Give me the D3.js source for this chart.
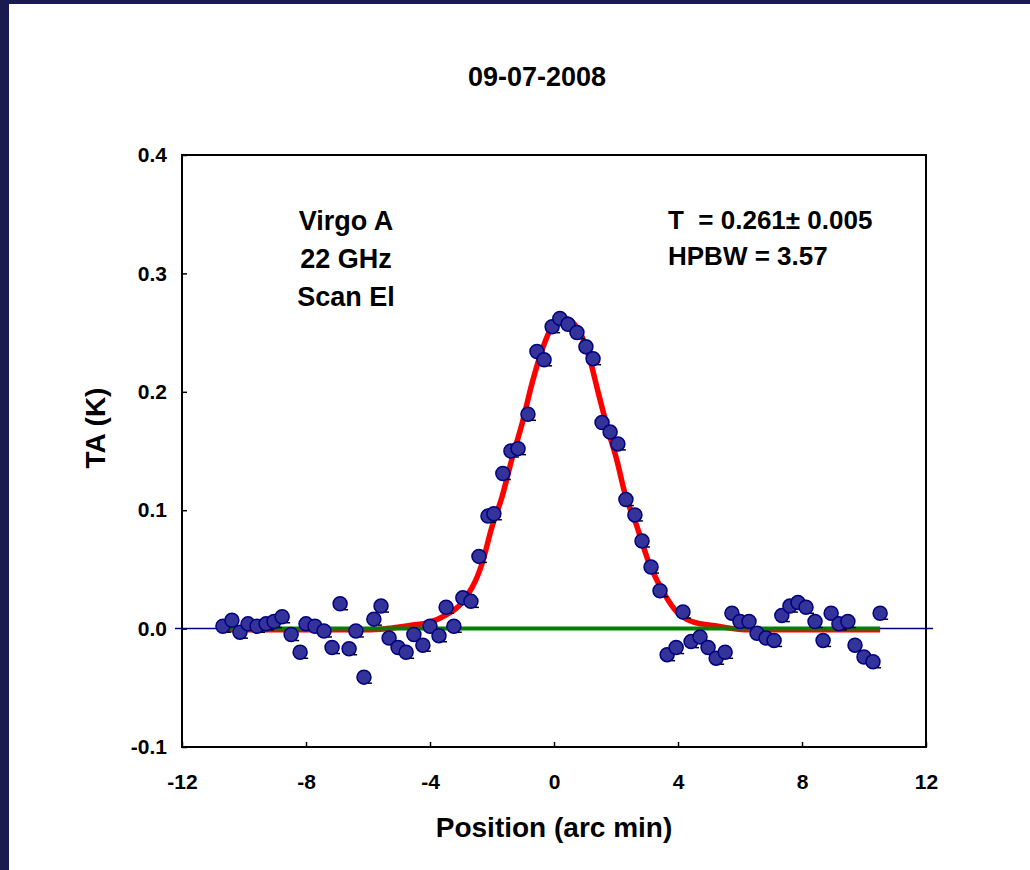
<!DOCTYPE html>
<html>
<head>
<meta charset="utf-8">
<script src="https://cdn.jsdelivr.net/npm/d3@7"></script>
<style>
  body { margin: 0; background: #fff; }
  text { font-family: "Liberation Sans", Arial, sans-serif; font-weight: bold; fill: #000; }
</style>
</head>
<body>
<script>
// Define constants
const width = 1030
const height = 870
const margin = {top: 155, right: 104, bottom: 123, left: 182}
const innerwidth = width - margin.left - margin.right
const innerheight = height - margin.top - margin.bottom

// scan data (position in arc min, TA in K)
const posX = [-10.68, -10.39, -10.13, -9.87, -9.58, -9.29, -9.03, -8.77, -8.48, -8.19,
  -8.00, -7.71, -7.42, -7.16, -6.90, -6.61, -6.39, -6.13, -5.81, -5.58,
  -5.32, -5.03, -4.77, -4.52, -4.23, -4.00, -3.71, -3.48, -3.23, -2.94,
  -2.68, -2.42, -2.13, -1.94, -1.65, -1.39, -1.16, -0.84, -0.55, -0.32,
  -0.06, 0.19, 0.45, 0.74, 1.03, 1.26, 1.55, 1.81, 2.06, 2.32,
  2.61, 2.84, 3.13, 3.42, 3.65, 3.94, 4.16, 4.42, 4.71, 4.97,
  5.23, 5.52, 5.74, 6.00, 6.29, 6.55, 6.84, 7.10, 7.35, 7.61,
  7.87, 8.13, 8.42, 8.68, 8.94, 9.19, 9.48, 9.71, 10.00, 10.29, 10.52]
const posTA = [0.002, 0.007, -0.003, 0.004, 0.002, 0.004, 0.006, 0.010, -0.005, -0.020,
  0.004, 0.002, -0.002, -0.016, 0.021, -0.017, -0.002, -0.041, 0.008, 0.019,
  -0.008, -0.016, -0.020, -0.005, -0.014, 0.002, -0.006, 0.018, 0.002, 0.026,
  0.023, 0.061, 0.095, 0.097, 0.131, 0.150, 0.152, 0.181, 0.234, 0.227,
  0.255, 0.262, 0.257, 0.250, 0.238, 0.228, 0.174, 0.166, 0.156, 0.109,
  0.096, 0.074, 0.052, 0.032, -0.022, -0.016, 0.014, -0.011, -0.007, -0.016,
  -0.025, -0.020, 0.013, 0.006, 0.006, -0.004, -0.008, -0.010, 0.011, 0.019,
  0.022, 0.018, 0.006, -0.010, 0.013, 0.004, 0.006, -0.014, -0.024, -0.028, 0.013]

// gaussian fit
const fitX = [-10.68, -6.0, -5.4, -4.55, -4.06, -3.52, -2.97, -2.32, -2.00, -1.68,
  -1.35, -1.03, -0.71, -0.39, -0.06, 0.35, 0.84, 1.16, 1.42, 1.74,
  2.03, 2.29, 2.68, 3.03, 3.48, 3.90, 4.45, 5.29, 6.16, 10.52]
const fitTA = [-0.001, -0.001, 0.000, 0.003, 0.005, 0.011, 0.022, 0.055, 0.086, 0.111,
  0.144, 0.173, 0.207, 0.235, 0.255, 0.262, 0.250, 0.227, 0.200, 0.168,
  0.142, 0.114, 0.086, 0.058, 0.033, 0.016, 0.006, 0.002, -0.001, -0.001]

// baseline
const baseX = [-10.68, 10.52]
const baseTA = [0, 0]

const xTicks = [-12, -8, -4, 0, 4, 8, 12]
const yTicks = [-0.1, 0.0, 0.1, 0.2, 0.3, 0.4]

const labelLeft = ["Virgo A", "22 GHz", "Scan El"]
const labelRight = ["T  = 0.261\u00b1 0.005", "HPBW = 3.57"]

const svg = d3.select("body").append("svg")
    .attr("width", width)
    .attr("height", height)

// slide background
svg.append("rect").attr("width", width).attr("height", height).attr("fill", "#1a1a50")
svg.append("rect").attr("x", 9).attr("y", 4).attr("width", width - 9).attr("height", height - 4).attr("fill", "#fff")

const xScale = d3.scaleLinear().domain([-12, 12]).range([margin.left, margin.left + innerwidth])
const yScale = d3.scaleLinear().domain([-0.1, 0.4]).range([margin.top + innerheight, margin.top])

// x axis
const xAxisG = svg.append("g")
    .attr("transform", `translate(0,${margin.top + innerheight})`)
    .call(d3.axisBottom(xScale).tickValues(xTicks).tickSizeInner(-5).tickSizeOuter(0)
        .tickPadding(27).tickFormat(d => String(d)))
xAxisG.select(".domain").remove()
xAxisG.selectAll(".tick line").attr("stroke", "#000").attr("stroke-width", 1.5)
xAxisG.selectAll("text").style("font-size", "21px")

// y axis
const yAxisG = svg.append("g")
    .attr("transform", `translate(${margin.left},0)`)
    .call(d3.axisLeft(yScale).tickValues(yTicks).tickSizeInner(-5).tickSizeOuter(0)
        .tickPadding(15).tickFormat(d => d.toFixed(1)))
yAxisG.select(".domain").remove()
yAxisG.selectAll(".tick line").attr("stroke", "#000").attr("stroke-width", 1.5)
yAxisG.selectAll("text").style("font-size", "21px")

// zero line
svg.append("line")
    .attr("x1", xScale(-12) - 7).attr("x2", xScale(12) + 7)
    .attr("y1", yScale(0)).attr("y2", yScale(0))
    .attr("stroke", "#000080").attr("stroke-width", 1.5)

// fit curve
const fitData = fitX.map((x, i) => ({x: x, y: fitTA[i]}))
svg.append("path")
    .datum(fitData)
    .attr("fill", "none")
    .attr("stroke", "#ff0000")
    .attr("stroke-width", 5.5)
    .attr("stroke-linejoin", "round")
    .attr("d", d3.line().x(d => xScale(d.x)).y(d => yScale(d.y)).curve(d3.curveMonotoneX))

// baseline
const baseData = baseX.map((x, i) => ({x: x, y: baseTA[i]}))
svg.append("path")
    .datum(baseData)
    .attr("fill", "none")
    .attr("stroke", "#008000")
    .attr("stroke-width", 4)
    .attr("d", d3.line().x(d => xScale(d.x)).y(d => yScale(d.y)))

// frame
svg.append("rect")
    .attr("x", margin.left).attr("y", margin.top)
    .attr("width", innerwidth).attr("height", innerheight)
    .attr("fill", "none").attr("stroke", "#000").attr("stroke-width", 2)

// data points
const pts = posX.map((x, i) => ({x: x, y: posTA[i]}))
const ptG = svg.append("g").selectAll("g").data(pts).enter().append("g")
    .attr("transform", d => `translate(${xScale(d.x)},${yScale(d.y)})`)
ptG.append("path")
    .attr("d", "M4,6 L8,6")
    .attr("stroke", "#000").attr("stroke-width", 1.5)
ptG.append("circle")
    .attr("r", 7)
    .attr("fill", "#333399")
    .attr("stroke", "#000080")
    .attr("stroke-width", 1.5)

// title
svg.append("text")
    .attr("x", 537).attr("y", 86)
    .attr("text-anchor", "middle")
    .style("font-size", "27px")
    .text("09-07-2008")

// axis labels
svg.append("text")
    .attr("x", 554).attr("y", 837)
    .attr("text-anchor", "middle")
    .style("font-size", "28px")
    .text("Position (arc min)")

svg.append("text")
    .attr("transform", "translate(105,428) rotate(-90)")
    .attr("text-anchor", "middle")
    .style("font-size", "28px")
    .text("TA (K)")

// annotations
svg.append("g").selectAll("text").data(labelLeft).enter().append("text")
    .attr("x", 346)
    .attr("y", (d, i) => 230 + i * 38)
    .attr("text-anchor", "middle")
    .style("font-size", "27px")
    .text(d => d)

svg.append("g").selectAll("text").data(labelRight).enter().append("text")
    .attr("x", 668)
    .attr("y", (d, i) => 229 + i * 36)
    .style("font-size", "26px")
    .style("white-space", "pre")
    .text(d => d)
</script>
</body>
</html>
